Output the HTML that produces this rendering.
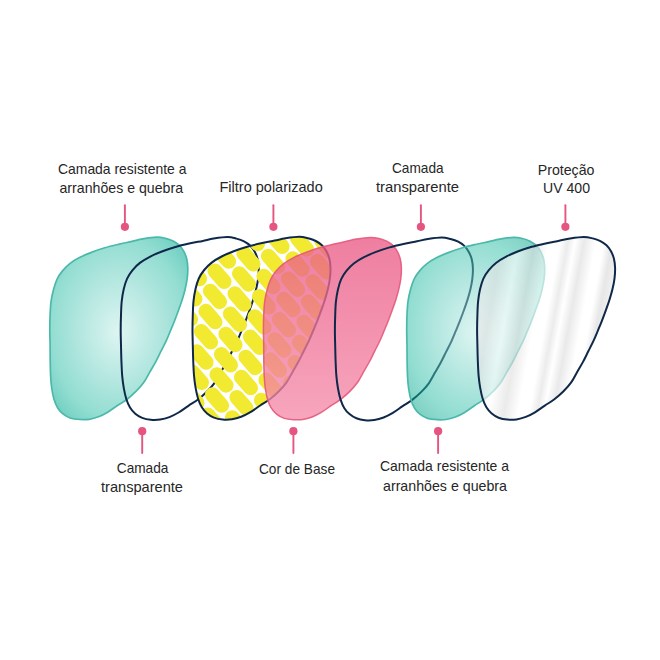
<!DOCTYPE html>
<html lang="pt"><head><meta charset="utf-8"><title>Camadas da lente</title>
<style>html,body{margin:0;padding:0;background:#fff}body{width:660px;height:660px;overflow:hidden}svg{display:block}</style>
</head><body>
<svg width="660" height="660" viewBox="0 0 660 660">
<defs>
<radialGradient id="tg" cx="0.5" cy="0.5" r="0.62" fx="0.5" fy="0.52"><stop offset="0" stop-color="rgb(222,245,242)"/><stop offset="0.45" stop-color="rgb(180,231,224)"/><stop offset="0.8" stop-color="rgb(146,221,209)"/><stop offset="1" stop-color="rgb(116,209,195)"/></radialGradient><radialGradient id="tg2" cx="0.5" cy="0.5" r="0.62" fx="0.5" fy="0.52"><stop offset="0" stop-color="rgb(189,235,229)" stop-opacity="0.5"/><stop offset="0.45" stop-color="rgb(105,207,193)" stop-opacity="0.5"/><stop offset="0.8" stop-color="rgb(37,187,163)" stop-opacity="0.5"/><stop offset="1" stop-color="rgb(0,163,135)" stop-opacity="0.5"/></radialGradient>
<linearGradient id="pg" x1="0" y1="0" x2="0" y2="1">
<stop offset="0" stop-color="#ea5a86"/><stop offset="1" stop-color="#f58cab"/>
</linearGradient>
<linearGradient id="ug" gradientUnits="userSpaceOnUse" x1="477" y1="330" x2="616.8" y2="355.2">
<stop offset="0.000" stop-color="#e8e8e8"/>
<stop offset="0.069" stop-color="#e2e2e2"/>
<stop offset="0.180" stop-color="#ffffff"/>
<stop offset="0.291" stop-color="#dedede"/>
<stop offset="0.388" stop-color="#ffffff"/>
<stop offset="0.464" stop-color="#ffffff"/>
<stop offset="0.520" stop-color="#e0e0e0"/>
<stop offset="0.568" stop-color="#ffffff"/>
<stop offset="0.631" stop-color="#dcdcdc"/>
<stop offset="0.714" stop-color="#ffffff"/>
<stop offset="0.769" stop-color="#ffffff"/>
<stop offset="0.825" stop-color="#d8d8d8"/>
<stop offset="0.901" stop-color="#ececec"/>
<stop offset="0.984" stop-color="#f4f4f4"/>
</linearGradient>
<clipPath id="yc"><path d="M192.50 330.00C192.50 324.93 192.63 319.60 192.80 314.80C192.97 310.00 193.05 305.50 193.50 301.20C193.95 296.90 194.62 292.78 195.50 289.00C196.38 285.22 197.35 281.67 198.80 278.50C200.25 275.33 202.05 272.65 204.20 270.00C206.35 267.35 208.80 264.85 211.70 262.60C214.60 260.35 217.93 258.40 221.60 256.50C225.27 254.60 229.43 252.83 233.70 251.20C237.97 249.57 242.65 248.02 247.20 246.70C251.75 245.38 256.43 244.32 261.00 243.30C265.57 242.28 270.52 241.43 274.60 240.60C278.68 239.77 281.40 238.93 285.50 238.30C289.60 237.67 295.42 236.80 299.20 236.80C302.98 236.80 305.43 237.60 308.20 238.30C310.97 239.00 313.52 239.85 315.80 241.00C318.08 242.15 320.13 243.50 321.90 245.20C323.67 246.90 325.15 248.93 326.40 251.20C327.65 253.47 328.72 256.02 329.40 258.80C330.08 261.58 330.42 264.62 330.50 267.90C330.58 271.18 330.33 274.98 329.90 278.50C329.47 282.02 328.73 285.47 327.90 289.00C327.07 292.53 326.02 296.15 324.90 299.70C323.78 303.25 322.48 306.75 321.20 310.30C319.92 313.85 318.48 317.72 317.20 321.00C315.92 324.28 314.87 326.73 313.50 330.00C312.13 333.27 310.63 337.07 309.00 340.60C307.37 344.13 305.47 347.67 303.70 351.20C301.93 354.73 300.30 358.27 298.40 361.80C296.50 365.33 294.30 368.93 292.30 372.40C290.30 375.87 288.63 379.47 286.40 382.60C284.17 385.73 281.67 388.43 278.90 391.20C276.13 393.97 272.92 396.82 269.80 399.20C266.68 401.58 263.43 403.33 260.20 405.50C256.97 407.67 253.57 410.32 250.40 412.20C247.23 414.08 244.28 415.62 241.20 416.80C238.12 417.98 235.00 418.85 231.90 419.30C228.80 419.75 225.58 419.78 222.60 419.50C219.62 419.22 216.58 418.62 214.00 417.60C211.42 416.58 209.13 415.13 207.10 413.40C205.07 411.67 203.30 409.65 201.80 407.20C200.30 404.75 199.13 401.93 198.10 398.70C197.07 395.47 196.28 391.67 195.60 387.80C194.92 383.93 194.40 380.08 194.00 375.50C193.60 370.92 193.40 365.35 193.20 360.30C193.00 355.25 192.92 350.25 192.80 345.20C192.68 340.15 192.50 335.07 192.50 330.00Z"/></clipPath>
</defs>
<rect width="660" height="660" fill="#fff"/>
<path d="M49.80 330.00C49.80 324.93 49.88 319.60 50.10 314.80C50.32 310.00 50.52 305.45 51.10 301.20C51.68 296.95 52.60 292.98 53.60 289.30C54.60 285.62 55.62 282.17 57.10 279.10C58.58 276.03 60.38 273.48 62.50 270.90C64.62 268.32 66.97 265.82 69.80 263.60C72.63 261.38 75.90 259.47 79.50 257.60C83.10 255.73 87.18 254.03 91.40 252.40C95.62 250.77 100.28 249.15 104.80 247.80C109.32 246.45 113.97 245.37 118.50 244.30C123.03 243.23 127.95 242.30 132.00 241.40C136.05 240.50 138.72 239.60 142.80 238.90C146.88 238.20 152.72 237.30 156.50 237.20C160.28 237.10 162.73 237.67 165.50 238.30C168.27 238.93 170.82 239.85 173.10 241.00C175.38 242.15 177.43 243.50 179.20 245.20C180.97 246.90 182.45 248.93 183.70 251.20C184.95 253.47 186.02 256.02 186.70 258.80C187.38 261.58 187.72 264.62 187.80 267.90C187.88 271.18 187.63 274.98 187.20 278.50C186.77 282.02 186.03 285.47 185.20 289.00C184.37 292.53 183.32 296.15 182.20 299.70C181.08 303.25 179.78 306.75 178.50 310.30C177.22 313.85 175.78 317.72 174.50 321.00C173.22 324.28 172.17 326.73 170.80 330.00C169.43 333.27 167.93 337.07 166.30 340.60C164.67 344.13 162.77 347.67 161.00 351.20C159.23 354.73 157.60 358.27 155.70 361.80C153.80 365.33 151.60 368.93 149.60 372.40C147.60 375.87 145.93 379.47 143.70 382.60C141.47 385.73 138.97 388.43 136.20 391.20C133.43 393.97 130.22 396.82 127.10 399.20C123.98 401.58 120.73 403.33 117.50 405.50C114.27 407.67 110.87 410.32 107.70 412.20C104.53 414.08 101.58 415.62 98.50 416.80C95.42 417.98 92.30 418.85 89.20 419.30C86.10 419.75 82.98 419.68 79.90 419.50C76.82 419.32 73.47 419.08 70.70 418.20C67.93 417.32 65.47 415.90 63.30 414.20C61.13 412.50 59.25 410.48 57.70 408.00C56.15 405.52 55.00 402.63 54.00 399.30C53.00 395.97 52.27 391.97 51.70 388.00C51.13 384.03 50.85 380.12 50.60 375.50C50.35 370.88 50.28 365.35 50.20 360.30C50.12 355.25 50.17 350.25 50.10 345.20C50.03 340.15 49.80 335.07 49.80 330.00Z" fill="url(#tg)" stroke="#4bb9aa" stroke-width="1.7"/>
<path d="M120.70 330.30C120.70 325.23 120.83 319.90 121.00 315.10C121.17 310.30 121.25 305.80 121.70 301.50C122.15 297.20 122.82 293.08 123.70 289.30C124.58 285.52 125.55 281.97 127.00 278.80C128.45 275.63 130.25 272.95 132.40 270.30C134.55 267.65 137.00 265.15 139.90 262.90C142.80 260.65 146.13 258.70 149.80 256.80C153.47 254.90 157.63 253.13 161.90 251.50C166.17 249.87 170.85 248.32 175.40 247.00C179.95 245.68 184.63 244.62 189.20 243.60C193.77 242.58 198.72 241.73 202.80 240.90C206.88 240.07 209.60 239.23 213.70 238.60C217.80 237.97 223.62 237.10 227.40 237.10C231.18 237.10 233.63 237.90 236.40 238.60C239.17 239.30 241.72 240.15 244.00 241.30C246.28 242.45 248.33 243.80 250.10 245.50C251.87 247.20 253.35 249.23 254.60 251.50C255.85 253.77 256.92 256.32 257.60 259.10C258.28 261.88 258.62 264.92 258.70 268.20C258.78 271.48 258.53 275.28 258.10 278.80C257.67 282.32 256.93 285.77 256.10 289.30C255.27 292.83 254.22 296.45 253.10 300.00C251.98 303.55 250.68 307.05 249.40 310.60C248.12 314.15 246.68 318.02 245.40 321.30C244.12 324.58 243.07 327.03 241.70 330.30C240.33 333.57 238.83 337.37 237.20 340.90C235.57 344.43 233.67 347.97 231.90 351.50C230.13 355.03 228.50 358.57 226.60 362.10C224.70 365.63 222.50 369.23 220.50 372.70C218.50 376.17 216.83 379.77 214.60 382.90C212.37 386.03 209.87 388.73 207.10 391.50C204.33 394.27 201.12 397.12 198.00 399.50C194.88 401.88 191.63 403.63 188.40 405.80C185.17 407.97 181.77 410.62 178.60 412.50C175.43 414.38 172.48 415.92 169.40 417.10C166.32 418.28 163.20 419.15 160.10 419.60C157.00 420.05 153.78 420.08 150.80 419.80C147.82 419.52 144.78 418.92 142.20 417.90C139.62 416.88 137.33 415.43 135.30 413.70C133.27 411.97 131.50 409.95 130.00 407.50C128.50 405.05 127.33 402.23 126.30 399.00C125.27 395.77 124.48 391.97 123.80 388.10C123.12 384.23 122.60 380.38 122.20 375.80C121.80 371.22 121.60 365.65 121.40 360.60C121.20 355.55 121.12 350.55 121.00 345.50C120.88 340.45 120.70 335.37 120.70 330.30Z" fill="none" stroke="#0f2849" stroke-width="2"/>
<g clip-path="url(#yc)"><path d="M174.8 225.0L184.2 235.8M170.3 245.2L179.7 256.0M165.8 265.4L175.2 276.2M199.3 227.7L208.7 238.5M194.8 247.9L204.2 258.7M190.3 268.1L199.7 278.9M185.8 288.3L195.2 299.1M181.3 308.5L190.7 319.3M176.8 328.7L186.2 339.5M172.3 348.9L181.7 359.7M167.8 369.1L177.2 379.9M228.3 210.2L237.7 221.0M223.8 230.4L233.2 241.2M219.3 250.6L228.7 261.4M214.8 270.8L224.2 281.6M210.3 291.0L219.7 301.8M205.8 311.2L215.2 322.0M201.3 331.4L210.7 342.2M196.8 351.6L206.2 362.4M192.3 371.8L201.7 382.6M187.8 392.0L197.2 402.8M183.3 412.2L192.7 423.0M178.8 432.4L188.2 443.2M252.8 212.9L262.2 223.7M248.3 233.1L257.7 243.9M243.8 253.3L253.2 264.1M239.3 273.5L248.7 284.3M234.8 293.7L244.2 304.5M230.3 313.9L239.7 324.7M225.8 334.1L235.2 344.9M221.3 354.3L230.7 365.1M216.8 374.5L226.2 385.3M212.3 394.7L221.7 405.5M207.8 414.9L217.2 425.7M277.3 215.6L286.7 226.4M272.8 235.8L282.2 246.6M268.3 256.0L277.7 266.8M263.8 276.2L273.2 287.0M259.3 296.4L268.7 307.2M254.8 316.6L264.2 327.4M250.3 336.8L259.7 347.6M245.8 357.0L255.2 367.8M241.3 377.2L250.7 388.0M236.8 397.4L246.2 408.2M232.3 417.6L241.7 428.4M301.8 218.3L311.2 229.1M297.3 238.5L306.7 249.3M292.8 258.7L302.2 269.5M288.3 278.9L297.7 289.7M283.8 299.1L293.2 309.9M279.3 319.3L288.7 330.1M274.8 339.5L284.2 350.3M270.3 359.7L279.7 370.5M265.8 379.9L275.2 390.7M261.3 400.1L270.7 410.9M256.8 420.3L266.2 431.1M326.3 221.0L335.7 231.8M321.8 241.2L331.2 252.0M317.3 261.4L326.7 272.2M312.8 281.6L322.2 292.4M308.3 301.8L317.7 312.6M303.8 322.0L313.2 332.8M299.3 342.2L308.7 353.0M294.8 362.4L304.2 373.2M290.3 382.6L299.7 393.4M285.8 402.8L295.2 413.6M281.3 423.0L290.7 433.8M341.8 264.1L351.2 274.9M337.3 284.3L346.7 295.1M332.8 304.5L342.2 315.3M328.3 324.7L337.7 335.5M323.8 344.9L333.2 355.7M319.3 365.1L328.7 375.9M314.8 385.3L324.2 396.1M310.3 405.5L319.7 416.3M305.8 425.7L315.2 436.5M343.8 367.8L353.2 378.6M339.3 388.0L348.7 398.8M334.8 408.2L344.2 419.0M330.3 428.4L339.7 439.2" stroke="#f2ea30" stroke-width="14.7" stroke-linecap="round" fill="none"/></g>
<path d="M192.50 330.00C192.50 324.93 192.63 319.60 192.80 314.80C192.97 310.00 193.05 305.50 193.50 301.20C193.95 296.90 194.62 292.78 195.50 289.00C196.38 285.22 197.35 281.67 198.80 278.50C200.25 275.33 202.05 272.65 204.20 270.00C206.35 267.35 208.80 264.85 211.70 262.60C214.60 260.35 217.93 258.40 221.60 256.50C225.27 254.60 229.43 252.83 233.70 251.20C237.97 249.57 242.65 248.02 247.20 246.70C251.75 245.38 256.43 244.32 261.00 243.30C265.57 242.28 270.52 241.43 274.60 240.60C278.68 239.77 281.40 238.93 285.50 238.30C289.60 237.67 295.42 236.80 299.20 236.80C302.98 236.80 305.43 237.60 308.20 238.30C310.97 239.00 313.52 239.85 315.80 241.00C318.08 242.15 320.13 243.50 321.90 245.20C323.67 246.90 325.15 248.93 326.40 251.20C327.65 253.47 328.72 256.02 329.40 258.80C330.08 261.58 330.42 264.62 330.50 267.90C330.58 271.18 330.33 274.98 329.90 278.50C329.47 282.02 328.73 285.47 327.90 289.00C327.07 292.53 326.02 296.15 324.90 299.70C323.78 303.25 322.48 306.75 321.20 310.30C319.92 313.85 318.48 317.72 317.20 321.00C315.92 324.28 314.87 326.73 313.50 330.00C312.13 333.27 310.63 337.07 309.00 340.60C307.37 344.13 305.47 347.67 303.70 351.20C301.93 354.73 300.30 358.27 298.40 361.80C296.50 365.33 294.30 368.93 292.30 372.40C290.30 375.87 288.63 379.47 286.40 382.60C284.17 385.73 281.67 388.43 278.90 391.20C276.13 393.97 272.92 396.82 269.80 399.20C266.68 401.58 263.43 403.33 260.20 405.50C256.97 407.67 253.57 410.32 250.40 412.20C247.23 414.08 244.28 415.62 241.20 416.80C238.12 417.98 235.00 418.85 231.90 419.30C228.80 419.75 225.58 419.78 222.60 419.50C219.62 419.22 216.58 418.62 214.00 417.60C211.42 416.58 209.13 415.13 207.10 413.40C205.07 411.67 203.30 409.65 201.80 407.20C200.30 404.75 199.13 401.93 198.10 398.70C197.07 395.47 196.28 391.67 195.60 387.80C194.92 383.93 194.40 380.08 194.00 375.50C193.60 370.92 193.40 365.35 193.20 360.30C193.00 355.25 192.92 350.25 192.80 345.20C192.68 340.15 192.50 335.07 192.50 330.00Z" fill="none" stroke="#0f2849" stroke-width="2"/>
<path d="M263.40 330.20C263.40 325.13 263.48 319.80 263.70 315.00C263.92 310.20 264.12 305.65 264.70 301.40C265.28 297.15 266.20 293.18 267.20 289.50C268.20 285.82 269.22 282.37 270.70 279.30C272.18 276.23 273.98 273.68 276.10 271.10C278.22 268.52 280.57 266.02 283.40 263.80C286.23 261.58 289.50 259.67 293.10 257.80C296.70 255.93 300.78 254.23 305.00 252.60C309.22 250.97 313.88 249.35 318.40 248.00C322.92 246.65 327.57 245.57 332.10 244.50C336.63 243.43 341.55 242.50 345.60 241.60C349.65 240.70 352.32 239.80 356.40 239.10C360.48 238.40 366.32 237.50 370.10 237.40C373.88 237.30 376.33 237.87 379.10 238.50C381.87 239.13 384.42 240.05 386.70 241.20C388.98 242.35 391.03 243.70 392.80 245.40C394.57 247.10 396.05 249.13 397.30 251.40C398.55 253.67 399.62 256.22 400.30 259.00C400.98 261.78 401.32 264.82 401.40 268.10C401.48 271.38 401.23 275.18 400.80 278.70C400.37 282.22 399.63 285.67 398.80 289.20C397.97 292.73 396.92 296.35 395.80 299.90C394.68 303.45 393.38 306.95 392.10 310.50C390.82 314.05 389.38 317.92 388.10 321.20C386.82 324.48 385.77 326.93 384.40 330.20C383.03 333.47 381.53 337.27 379.90 340.80C378.27 344.33 376.37 347.87 374.60 351.40C372.83 354.93 371.20 358.47 369.30 362.00C367.40 365.53 365.20 369.13 363.20 372.60C361.20 376.07 359.53 379.67 357.30 382.80C355.07 385.93 352.57 388.63 349.80 391.40C347.03 394.17 343.82 397.02 340.70 399.40C337.58 401.78 334.33 403.53 331.10 405.70C327.87 407.87 324.47 410.52 321.30 412.40C318.13 414.28 315.18 415.82 312.10 417.00C309.02 418.18 305.90 419.05 302.80 419.50C299.70 419.95 296.58 419.88 293.50 419.70C290.42 419.52 287.07 419.28 284.30 418.40C281.53 417.52 279.07 416.10 276.90 414.40C274.73 412.70 272.85 410.68 271.30 408.20C269.75 405.72 268.60 402.83 267.60 399.50C266.60 396.17 265.87 392.17 265.30 388.20C264.73 384.23 264.45 380.32 264.20 375.70C263.95 371.08 263.88 365.55 263.80 360.50C263.72 355.45 263.77 350.45 263.70 345.40C263.63 340.35 263.40 335.27 263.40 330.20Z" fill="url(#pg)" fill-opacity="0.78" stroke="#e4587c" stroke-opacity="0.9" stroke-width="1.5"/>
<path d="M334.90 330.70C334.90 325.63 335.03 320.30 335.20 315.50C335.37 310.70 335.45 306.20 335.90 301.90C336.35 297.60 337.02 293.48 337.90 289.70C338.78 285.92 339.75 282.37 341.20 279.20C342.65 276.03 344.45 273.35 346.60 270.70C348.75 268.05 351.20 265.55 354.10 263.30C357.00 261.05 360.33 259.10 364.00 257.20C367.67 255.30 371.83 253.53 376.10 251.90C380.37 250.27 385.05 248.72 389.60 247.40C394.15 246.08 398.83 245.02 403.40 244.00C407.97 242.98 412.92 242.13 417.00 241.30C421.08 240.47 423.80 239.63 427.90 239.00C432.00 238.37 437.82 237.50 441.60 237.50C445.38 237.50 447.83 238.30 450.60 239.00C453.37 239.70 455.92 240.55 458.20 241.70C460.48 242.85 462.53 244.20 464.30 245.90C466.07 247.60 467.55 249.63 468.80 251.90C470.05 254.17 471.12 256.72 471.80 259.50C472.48 262.28 472.82 265.32 472.90 268.60C472.98 271.88 472.73 275.68 472.30 279.20C471.87 282.72 471.13 286.17 470.30 289.70C469.47 293.23 468.42 296.85 467.30 300.40C466.18 303.95 464.88 307.45 463.60 311.00C462.32 314.55 460.88 318.42 459.60 321.70C458.32 324.98 457.27 327.43 455.90 330.70C454.53 333.97 453.03 337.77 451.40 341.30C449.77 344.83 447.87 348.37 446.10 351.90C444.33 355.43 442.70 358.97 440.80 362.50C438.90 366.03 436.70 369.63 434.70 373.10C432.70 376.57 431.03 380.17 428.80 383.30C426.57 386.43 424.07 389.13 421.30 391.90C418.53 394.67 415.32 397.52 412.20 399.90C409.08 402.28 405.83 404.03 402.60 406.20C399.37 408.37 395.97 411.02 392.80 412.90C389.63 414.78 386.68 416.32 383.60 417.50C380.52 418.68 377.40 419.55 374.30 420.00C371.20 420.45 367.98 420.48 365.00 420.20C362.02 419.92 358.98 419.32 356.40 418.30C353.82 417.28 351.53 415.83 349.50 414.10C347.47 412.37 345.70 410.35 344.20 407.90C342.70 405.45 341.53 402.63 340.50 399.40C339.47 396.17 338.68 392.37 338.00 388.50C337.32 384.63 336.80 380.78 336.40 376.20C336.00 371.62 335.80 366.05 335.60 361.00C335.40 355.95 335.32 350.95 335.20 345.90C335.08 340.85 334.90 335.77 334.90 330.70Z" fill="none" stroke="#0f2849" stroke-width="2"/>
<path d="M406.70 330.20C406.70 325.13 406.78 319.80 407.00 315.00C407.22 310.20 407.42 305.65 408.00 301.40C408.58 297.15 409.50 293.18 410.50 289.50C411.50 285.82 412.52 282.37 414.00 279.30C415.48 276.23 417.28 273.68 419.40 271.10C421.52 268.52 423.87 266.02 426.70 263.80C429.53 261.58 432.80 259.67 436.40 257.80C440.00 255.93 444.08 254.23 448.30 252.60C452.52 250.97 457.18 249.35 461.70 248.00C466.22 246.65 470.87 245.57 475.40 244.50C479.93 243.43 484.85 242.50 488.90 241.60C492.95 240.70 495.62 239.80 499.70 239.10C503.78 238.40 509.62 237.50 513.40 237.40C517.18 237.30 519.63 237.87 522.40 238.50C525.17 239.13 527.72 240.05 530.00 241.20C532.28 242.35 534.33 243.70 536.10 245.40C537.87 247.10 539.35 249.13 540.60 251.40C541.85 253.67 542.92 256.22 543.60 259.00C544.28 261.78 544.62 264.82 544.70 268.10C544.78 271.38 544.53 275.18 544.10 278.70C543.67 282.22 542.93 285.67 542.10 289.20C541.27 292.73 540.22 296.35 539.10 299.90C537.98 303.45 536.68 306.95 535.40 310.50C534.12 314.05 532.68 317.92 531.40 321.20C530.12 324.48 529.07 326.93 527.70 330.20C526.33 333.47 524.83 337.27 523.20 340.80C521.57 344.33 519.67 347.87 517.90 351.40C516.13 354.93 514.50 358.47 512.60 362.00C510.70 365.53 508.50 369.13 506.50 372.60C504.50 376.07 502.83 379.67 500.60 382.80C498.37 385.93 495.87 388.63 493.10 391.40C490.33 394.17 487.12 397.02 484.00 399.40C480.88 401.78 477.63 403.53 474.40 405.70C471.17 407.87 467.77 410.52 464.60 412.40C461.43 414.28 458.48 415.82 455.40 417.00C452.32 418.18 449.20 419.05 446.10 419.50C443.00 419.95 439.88 419.88 436.80 419.70C433.72 419.52 430.37 419.28 427.60 418.40C424.83 417.52 422.37 416.10 420.20 414.40C418.03 412.70 416.15 410.68 414.60 408.20C413.05 405.72 411.90 402.83 410.90 399.50C409.90 396.17 409.17 392.17 408.60 388.20C408.03 384.23 407.75 380.32 407.50 375.70C407.25 371.08 407.18 365.55 407.10 360.50C407.02 355.45 407.07 350.45 407.00 345.40C406.93 340.35 406.70 335.27 406.70 330.20Z" fill="url(#tg2)" stroke="#4bb9aa" stroke-width="1.7"/>
<path d="M477.10 330.10C477.10 325.03 477.23 319.70 477.40 314.90C477.57 310.10 477.65 305.60 478.10 301.30C478.55 297.00 479.22 292.88 480.10 289.10C480.98 285.32 481.95 281.77 483.40 278.60C484.85 275.43 486.65 272.75 488.80 270.10C490.95 267.45 493.40 264.95 496.30 262.70C499.20 260.45 502.53 258.50 506.20 256.60C509.87 254.70 514.03 252.93 518.30 251.30C522.57 249.67 527.25 248.12 531.80 246.80C536.35 245.48 541.03 244.42 545.60 243.40C550.17 242.38 555.12 241.53 559.20 240.70C563.28 239.87 566.00 239.03 570.10 238.40C574.20 237.77 580.02 236.90 583.80 236.90C587.58 236.90 590.03 237.70 592.80 238.40C595.57 239.10 598.12 239.95 600.40 241.10C602.68 242.25 604.73 243.60 606.50 245.30C608.27 247.00 609.75 249.03 611.00 251.30C612.25 253.57 613.32 256.12 614.00 258.90C614.68 261.68 615.02 264.72 615.10 268.00C615.18 271.28 614.93 275.08 614.50 278.60C614.07 282.12 613.33 285.57 612.50 289.10C611.67 292.63 610.62 296.25 609.50 299.80C608.38 303.35 607.08 306.85 605.80 310.40C604.52 313.95 603.08 317.82 601.80 321.10C600.52 324.38 599.47 326.83 598.10 330.10C596.73 333.37 595.23 337.17 593.60 340.70C591.97 344.23 590.07 347.77 588.30 351.30C586.53 354.83 584.90 358.37 583.00 361.90C581.10 365.43 578.90 369.03 576.90 372.50C574.90 375.97 573.23 379.57 571.00 382.70C568.77 385.83 566.27 388.53 563.50 391.30C560.73 394.07 557.52 396.92 554.40 399.30C551.28 401.68 548.03 403.43 544.80 405.60C541.57 407.77 538.17 410.42 535.00 412.30C531.83 414.18 528.88 415.72 525.80 416.90C522.72 418.08 519.60 418.95 516.50 419.40C513.40 419.85 510.18 419.88 507.20 419.60C504.22 419.32 501.18 418.72 498.60 417.70C496.02 416.68 493.73 415.23 491.70 413.50C489.67 411.77 487.90 409.75 486.40 407.30C484.90 404.85 483.73 402.03 482.70 398.80C481.67 395.57 480.88 391.77 480.20 387.90C479.52 384.03 479.00 380.18 478.60 375.60C478.20 371.02 478.00 365.45 477.80 360.40C477.60 355.35 477.52 350.35 477.40 345.30C477.28 340.25 477.10 335.17 477.10 330.10Z" fill="url(#ug)" fill-opacity="0.62" stroke="#0f2849" stroke-width="2"/>
<g stroke="#e5557f" stroke-width="1.9" fill="#e5557f">
<g stroke-linecap="round">
<line x1="124.9" y1="205.3" x2="124.9" y2="226" /><circle cx="124.9" cy="226.8" r="4.1" stroke="none"/>
<line x1="273.4" y1="205.3" x2="273.4" y2="226" /><circle cx="273.4" cy="226.8" r="4.1" stroke="none"/>
<line x1="420.9" y1="205.3" x2="420.9" y2="226" /><circle cx="420.9" cy="226.8" r="4.1" stroke="none"/>
<line x1="565.4" y1="205.3" x2="565.4" y2="226" /><circle cx="565.4" cy="226.8" r="4.1" stroke="none"/>
<line x1="142.2" y1="432" x2="142.2" y2="453" /><circle cx="142.2" cy="431.2" r="4.1" stroke="none"/>
<line x1="293.4" y1="432" x2="293.4" y2="453" /><circle cx="293.4" cy="431.2" r="4.1" stroke="none"/>
<line x1="438.1" y1="432" x2="438.1" y2="453" /><circle cx="438.1" cy="431.2" r="4.1" stroke="none"/>
</g></g>
<g font-family="'Liberation Sans', sans-serif" font-size="14.3" fill="#262626">
<text x="58.0" y="174.3" textLength="128.4" lengthAdjust="spacingAndGlyphs">Camada resistente a</text>
<text x="59.5" y="192.7" textLength="123.5" lengthAdjust="spacingAndGlyphs">arranhões e quebra</text>
<text x="219.5" y="191.8" textLength="103.2" lengthAdjust="spacingAndGlyphs">Filtro polarizado</text>
<text x="392.0" y="172.7" textLength="51.6" lengthAdjust="spacingAndGlyphs">Camada</text>
<text x="376.0" y="191.8" textLength="83.0" lengthAdjust="spacingAndGlyphs">transparente</text>
<text x="537.7" y="175.0" textLength="56.8" lengthAdjust="spacingAndGlyphs">Proteção</text>
<text x="543.0" y="193.0" textLength="47.0" lengthAdjust="spacingAndGlyphs">UV 400</text>
<text x="116.8" y="473.3" textLength="51.6" lengthAdjust="spacingAndGlyphs">Camada</text>
<text x="101.0" y="492.0" textLength="82.0" lengthAdjust="spacingAndGlyphs">transparente</text>
<text x="259.0" y="474.0" textLength="76.0" lengthAdjust="spacingAndGlyphs">Cor de Base</text>
<text x="380.0" y="471.0" textLength="129.0" lengthAdjust="spacingAndGlyphs">Camada resistente a</text>
<text x="383.0" y="490.5" textLength="124.0" lengthAdjust="spacingAndGlyphs">arranhões e quebra</text>
</g>
</svg>
</body></html>
